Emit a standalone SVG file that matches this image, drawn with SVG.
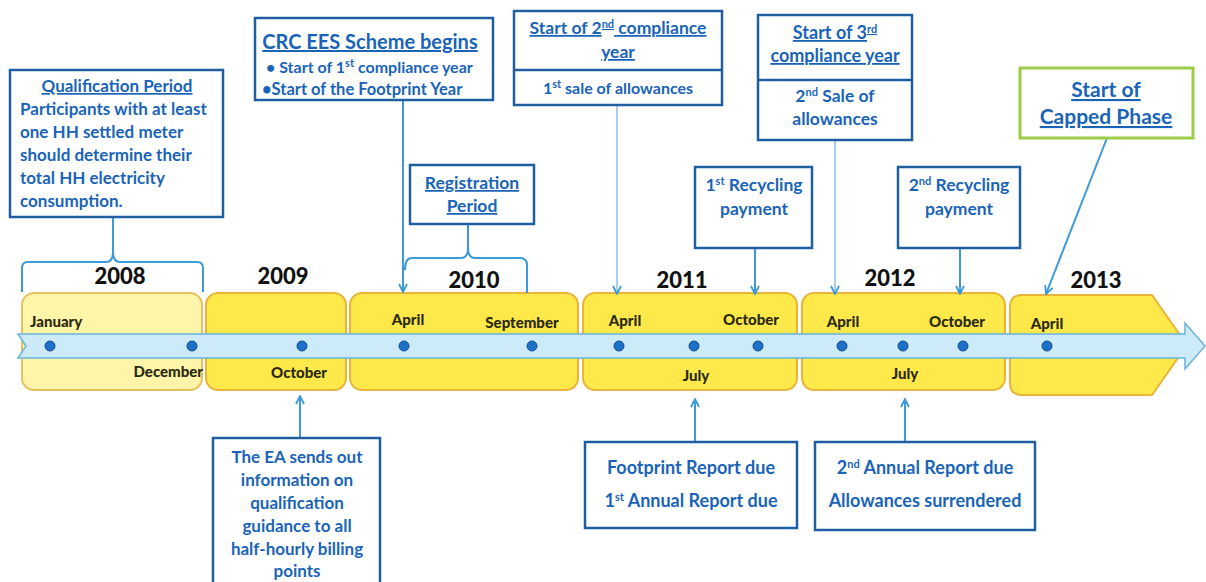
<svg xmlns="http://www.w3.org/2000/svg" width="1206" height="582" viewBox="0 0 1206 582">
<style>
.box{fill:#fff;stroke:#1f5f9f;stroke-width:2.5}
.gbox{fill:#fff;stroke:#9ccc4a;stroke-width:3}
.t{font-family:Lato,"Liberation Sans",sans-serif;font-weight:bold;fill:#1a64b8;font-size:17.5px}
.s16{font-size:16px}
.s17{font-size:17px}
.s18{font-size:18px}
.s20{font-size:20px}
.s21{font-size:21px}
.c{text-anchor:middle}
.u{text-decoration:underline}
.yr{font-family:Lato,"Liberation Sans",sans-serif;font-weight:900;font-size:22px;fill:#111;text-anchor:middle}
.m{font-family:Lato,"Liberation Sans",sans-serif;font-weight:900;font-size:15px;fill:#2a2a10}
.seg{fill:#ffe84a;stroke:#e8b43a;stroke-width:2}
.ln{fill:none;stroke:#3c9ad8;stroke-width:2}
.thin{fill:none;stroke:#6ab0e0;stroke-width:1.2}
.dot{fill:#1e6fc8;stroke:#0d4f99;stroke-width:1}
.sup{font-size:11px}
</style>
<defs>
<marker id="ah" viewBox="0 0 10 10" refX="9" refY="5" markerWidth="10" markerHeight="10" markerUnits="userSpaceOnUse" orient="auto">
<path d="M1,1 L9,5 L1,9" fill="none" stroke="#3c9ad8" stroke-width="1.8"/>
</marker>
</defs>

<g id="timeline">
<rect x="22" y="293" width="180" height="97" rx="12" fill="#fff5a8" stroke="#e8c060" stroke-width="2"/>
<rect class="seg" x="206" y="293" width="140" height="97" rx="12"/>
<rect class="seg" x="350" y="293" width="228" height="97" rx="12"/>
<rect class="seg" x="583" y="293" width="214" height="97" rx="12"/>
<rect class="seg" x="802" y="293" width="203" height="97" rx="12"/>
<path class="seg" d="M1022,295 H1152 L1187,345 L1152,395 H1022 Q1010,395 1010,383 V307 Q1010,295 1022,295 Z"/>
<polygon points="18,334 1185,334 1185,323 1205,346 1185,369 1185,358 18,358 26,346" fill="#cdeaf8" stroke="#6ab4dc" stroke-width="1.5"/>
<circle class="dot" cx="50" cy="346" r="5"/>
<circle class="dot" cx="192" cy="346" r="5"/>
<circle class="dot" cx="302" cy="346" r="5"/>
<circle class="dot" cx="404" cy="346" r="5"/>
<circle class="dot" cx="532" cy="346" r="5"/>
<circle class="dot" cx="619" cy="346" r="5"/>
<circle class="dot" cx="694" cy="346" r="5"/>
<circle class="dot" cx="758" cy="346" r="5"/>
<circle class="dot" cx="842" cy="346" r="5"/>
<circle class="dot" cx="903" cy="346" r="5"/>
<circle class="dot" cx="963" cy="346" r="5"/>
<circle class="dot" cx="1047" cy="346" r="5"/>
<text class="yr" x="120" y="284">2008</text>
<text class="yr" x="283" y="284">2009</text>
<text class="yr" x="474" y="288">2010</text>
<text class="yr" x="682" y="288">2011</text>
<text class="yr" x="890" y="286">2012</text>
<text class="yr" x="1096" y="288">2013</text>
<text class="m" x="30" y="327">January</text>
<text class="m" x="203" y="377" text-anchor="end">December</text>
<text class="m" x="299" y="378" text-anchor="middle">October</text>
<text class="m" x="408" y="325" text-anchor="middle">April</text>
<text class="m" x="522" y="328" text-anchor="middle">September</text>
<text class="m" x="625" y="326" text-anchor="middle">April</text>
<text class="m" x="751" y="325" text-anchor="middle">October</text>
<text class="m" x="696" y="381" text-anchor="middle">July</text>
<text class="m" x="843" y="327" text-anchor="middle">April</text>
<text class="m" x="957" y="327" text-anchor="middle">October</text>
<text class="m" x="905" y="379" text-anchor="middle">July</text>
<text class="m" x="1047" y="329" text-anchor="middle">April</text>
</g>

<g id="connectors">
<path class="ln" d="M113,217 V252"/>
<path class="ln" d="M22,292 V268 Q22,262 28,262 H106 Q113,262 113,252 Q113,262 120,262 H197 Q203,262 203,268 V292"/>
<path class="ln" d="M403,100 V292" marker-end="url(#ah)"/>
<path class="ln" d="M468,224 V248"/>
<path class="ln" d="M405,270 Q405,258 412,258 H461 Q468,258 468,248 Q468,258 475,258 H520 Q527,258 527,265 V293"/>
<path class="thin" d="M617,105 V294" marker-end="url(#ah)"/>
<path class="ln" d="M755,248 V294" marker-end="url(#ah)"/>
<path class="thin" d="M835,140 V294" marker-end="url(#ah)"/>
<path class="ln" d="M960,248 V294" marker-end="url(#ah)"/>
<path class="ln" d="M1107,138 L1046,294" marker-end="url(#ah)"/>
<path class="ln" d="M300,438 V396" marker-end="url(#ah)"/>
<path class="ln" d="M695,442 V399" marker-end="url(#ah)"/>
<path class="ln" d="M905,442 V399" marker-end="url(#ah)"/>
</g>

<g id="qualification">
<rect class="box" x="10" y="70" width="213" height="147"/>
<text class="t c u s17" x="117" y="92">Qualification Period</text>
<text class="t s17" x="20" y="115">Participants with at least</text>
<text class="t s17" x="20" y="138">one HH settled meter</text>
<text class="t s17" x="20" y="161">should determine their</text>
<text class="t s17" x="20" y="184">total HH electricity</text>
<text class="t s17" x="20" y="207">consumption.</text>
</g>

<g id="crc">
<rect class="box" x="255" y="18" width="238" height="82"/>
<text class="t c u s20" x="370" y="49">CRC EES Scheme begins</text>
<text class="t s16" x="266" y="73">• Start of 1<tspan class="sup" dy="-6">st</tspan><tspan dy="6"> compliance year</tspan></text>
<text class="t" x="262" y="95" style="font-size:16.5px">•Start of the Footprint Year</text>
</g>

<g id="registration">
<rect class="box" x="410" y="165" width="124" height="59"/>
<text class="t c u" x="472" y="189">Registration</text>
<text class="t c u" x="472" y="212">Period</text>
</g>

<g id="second-year">
<rect class="box" x="514" y="11" width="208" height="94"/>
<line x1="514" y1="70" x2="722" y2="70" stroke="#1f5f9f" stroke-width="2.5"/>
<text class="t c u" x="618" y="34">Start of 2<tspan class="sup" dy="-6">nd</tspan><tspan dy="6"> compliance</tspan></text>
<text class="t c u" x="618" y="58">year</text>
<text class="t c s16" x="618" y="94">1<tspan class="sup" dy="-6">st</tspan><tspan dy="6"> sale of allowances</tspan></text>
</g>

<g id="third-year">
<rect class="box" x="758" y="15" width="154" height="125"/>
<line x1="758" y1="80" x2="912" y2="80" stroke="#1f5f9f" stroke-width="2.5"/>
<text class="t c u s18" x="835" y="39">Start of 3<tspan class="sup" dy="-6">rd</tspan></text>
<text class="t c u s18" x="835" y="62">compliance year</text>
<text class="t c" x="835" y="102">2<tspan class="sup" dy="-6">nd</tspan><tspan dy="6"> Sale of</tspan></text>
<text class="t c" x="835" y="125">allowances</text>
</g>

<g id="capped">
<rect class="gbox" x="1020" y="68" width="173" height="70"/>
<text class="t c u s21" x="1106" y="97">Start of</text>
<text class="t c u s21" x="1106" y="124">Capped Phase</text>
</g>

<g id="recycling1">
<rect class="box" x="695" y="167" width="117" height="81"/>
<text class="t c" x="754" y="191">1<tspan class="sup" dy="-6">st</tspan><tspan dy="6"> Recycling</tspan></text>
<text class="t c" x="754" y="215">payment</text>
</g>

<g id="recycling2">
<rect class="box" x="898" y="167" width="122" height="81"/>
<text class="t c" x="959" y="191">2<tspan class="sup" dy="-6">nd</tspan><tspan dy="6"> Recycling</tspan></text>
<text class="t c" x="959" y="215">payment</text>
</g>

<g id="ea">
<rect class="box" x="213" y="438" width="167" height="150"/>
<text class="t c s17" x="297" y="463">The EA sends out</text>
<text class="t c s17" x="297" y="486">information on</text>
<text class="t c s17" x="297" y="509">qualification</text>
<text class="t c s17" x="297" y="532">guidance to all</text>
<text class="t c s17" x="297" y="555">half-hourly billing</text>
<text class="t c s17" x="297" y="577">points</text>
</g>

<g id="footprint">
<rect class="box" x="585" y="442" width="212" height="86"/>
<text class="t c s18" x="691" y="474">Footprint Report due</text>
<text class="t c s18" x="691" y="507">1<tspan class="sup" dy="-6">st</tspan><tspan dy="6"> Annual Report due</tspan></text>
</g>

<g id="annual2">
<rect class="box" x="815" y="442" width="220" height="88"/>
<text class="t c s18" x="925" y="474">2<tspan class="sup" dy="-6">nd</tspan><tspan dy="6"> Annual Report due</tspan></text>
<text class="t c s18" x="925" y="507">Allowances surrendered</text>
</g>
</svg>
